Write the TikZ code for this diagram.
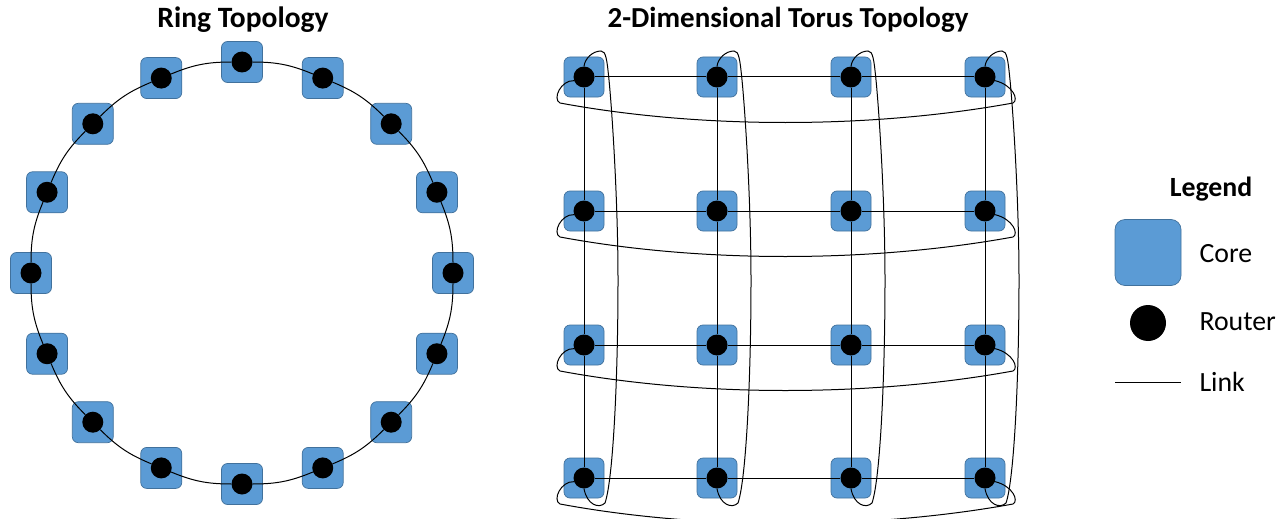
\documentclass[tikz,border=0pt]{standalone}
\usepackage{fontspec}
\setmainfont{Carlito}
\definecolor{corefill}{HTML}{5B9BD5}
\definecolor{coreedge}{HTML}{41719C}
\begin{document}
\begin{tikzpicture}[x=1pt,y=1pt,
  core/.style={draw=coreedge, fill=corefill, line width=0.7pt, rounded corners=6pt,
    minimum size=#1, inner sep=0pt},
  core/.default=40pt,
  router/.style={circle, fill=black, minimum size=21pt, inner sep=0pt},
  link/.style={draw=black, line width=1pt},
  heading/.style={font=\bfseries\fontsize{#1}{34}\selectfont, anchor=base},
  heading/.default=28,
  legendtext/.style={font=\fontsize{27.8}{32}\selectfont, anchor=base west}]
\useasboundingbox (0,0) rectangle (1285,-519);
\clip (0,0) rectangle (1285,-519);

% headings
\node[heading=29.5] (ringtitle) at (243,-28) {Ring Topology};
\node[heading=29] (torustitle) at (788,-28) {2-Dimensional Torus Topology};

% ring of 16 cores
\foreach \k in {0,...,15}{
  \pgfmathsetmacro\rx{242+211*cos(90-22.5*\k)}
  \pgfmathsetmacro\ry{-273+211*sin(90-22.5*\k)}
  \node[core=41pt] (rc\k) at (\rx,\ry) {};
  \node[router] (r\k) at (\rx,\ry) {};
}
\foreach \k [evaluate=\k as \n using {int(mod(\k+1,16))}] in {0,...,15}
  \draw[link] (r\k) to[bend left=11.25] (r\n);

% 4x4 torus
\foreach \c/\X in {1/584,2/717,3/851,4/985}
  \foreach \r/\Y in {1/77,2/211,3/345,4/478}{
    \node[core] (tc\c\r) at (\X,-\Y) {};
    \node[router] (t\c\r) at (\X,-\Y) {};
  }
\foreach \i in {1,...,4}{
  \draw[link] (t1\i) -- (t2\i) -- (t3\i) -- (t4\i);
  \draw[link] (t\i1) -- (t\i2) -- (t\i3) -- (t\i4);
}
% column wrap-around links
\foreach \c/\X in {1/584,2/717,3/851,4/985}
  \draw[link] (t\c1.north) .. controls ({\X+1},-58) and ({\X+9},-51) .. ({\X+17},-51)
    .. controls ({\X+22},-51) and ({\X+23},-60) .. ({\X+25},-80)
    .. controls ({\X+28},-110) and ({\X+34},-200) .. ({\X+34},-280)
    .. controls ({\X+34},-380) and ({\X+29},-480) .. ({\X+21},-503)
    .. controls ({\X+15},-509) and ({\X+3},-505) .. (t\c4.south);
% row wrap-around links
\foreach \r/\Y in {1/77,2/211,3/345,4/478}
  \draw[link] (t1\r.200) .. controls (561,{-\Y-3}) and (552,{-\Y-22}) .. (560,{-\Y-26})
    .. controls (700,{-\Y-52}) and (870,{-\Y-52}) .. (1013,{-\Y-26})
    .. controls (1019,{-\Y-23}) and (1013,{-\Y-8}) .. (t4\r.-20);

% legend
\node[heading=27.8] (legendtitle) at (1211,-196) {Legend};
\node[core=66pt, rounded corners=10pt] (lcore) at (1148,-252.5) {};
\node[legendtext] (lcoretext) at (1196,-262) {Core};
\node[router, minimum size=36pt] (lrouter) at (1148,-323) {};
\node[legendtext] (lroutertext) at (1196,-330) {Router};
\coordinate (la) at (1115,-382);
\coordinate (lb) at (1181,-382);
\draw[link] (la) -- (lb);
\node[legendtext] (llinktext) at (1196,-391) {Link};
\end{tikzpicture}
\end{document}
